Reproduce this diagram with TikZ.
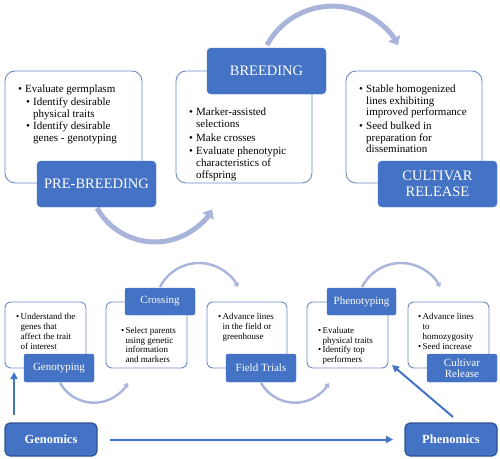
\documentclass[tikz,border=0pt]{standalone}
\usepackage{fontspec}
\setmainfont{Liberation Serif}
\usetikzlibrary{arrows.meta}
\definecolor{accblue}{RGB}{68,114,196}
\definecolor{edgeblue}{RGB}{112,138,196}
\definecolor{arcgray}{RGB}{168,180,218}
\definecolor{darkedge}{RGB}{47,82,143}
\newcommand{\bitem}[1]{\makebox[7pt][l]{\textbullet}#1}
\newcommand{\sitem}[1]{\makebox[4.5pt][l]{\textbullet}#1}
\tikzset{
  whitebox/.style={draw=edgeblue, line width=0.9pt, fill=white, rounded corners=#1,
    inner sep=0pt, outer sep=0pt, anchor=north west},
  bluebox/.style={fill=accblue, draw=accblue, rounded corners=4pt, text=white,
    inner sep=0pt, outer sep=0pt, align=center},
  bigfont/.style={font=\fontsize{14.5}{15.5}\selectfont},
  smallfont/.style={font=\fontsize{11}{11}\selectfont},
  toptext/.style={inner sep=0pt, anchor=north west, align=left},
  bottext/.style={inner sep=0pt, anchor=north west, align=left, font=\fontsize{9}{9.7}\selectfont},
  bigarc/.style={draw=arcgray, line width=5pt, -{Triangle[length=8pt,width=13pt]}},
  smallarc/.style={draw=arcgray, line width=2.4pt, -{Triangle[length=4pt,width=6pt]}},
  omicbox/.style={fill=accblue, draw=darkedge, line width=1.2pt, rounded corners=5pt,
    text=white, inner sep=0pt, outer sep=0pt, minimum width=92pt, minimum height=33pt,
    font=\fontsize{12.5}{13}\selectfont\bfseries},
  bluearrow/.style={draw=accblue, line width=2pt, -{Triangle[length=7pt,width=7pt]}}
}
\begin{document}
\begin{tikzpicture}[x=1pt,y=-1pt]
\useasboundingbox (0,0) rectangle (500,458);

% ---------- top row arcs ----------
\draw[bigarc] (267,45) arc[start angle=-151.4, end angle=-28.3, radius=74.5];
\draw[bigarc] (97,208) arc[start angle=150.7, end angle=30.7, radius=66.5];

% ---------- top row boxes ----------
\node[whitebox=10pt, minimum width=137pt, minimum height=112pt] (prew) at (5,71) {};
\node[whitebox=10pt, minimum width=136pt, minimum height=112pt] (breedw) at (176,71) {};
\node[whitebox=10pt, minimum width=136pt, minimum height=112pt] (cultw) at (346,71) {};

\node[toptext, font=\fontsize{11}{12}\selectfont] (pret) at (18,85)
  {\bitem{Evaluate germplasm}\\[0.5pt]
   \hspace*{8pt}\bitem{Identify desirable}\\
   \hspace*{15pt}physical traits\\[0.5pt]
   \hspace*{8pt}\bitem{Identify desirable}\\
   \hspace*{15pt}genes - genotyping};
\node[toptext, font=\fontsize{11}{11.8}\selectfont] (breedt) at (189,108)
  {\bitem{Marker-assisted}\\
   \hspace*{7pt}selections\\[2pt]
   \bitem{Make crosses}\\[1.5pt]
   \bitem{Evaluate phenotypic}\\
   \hspace*{7pt}characteristics of\\
   \hspace*{7pt}offspring};
\node[toptext, font=\fontsize{11}{11.5}\selectfont] (cultt) at (359,85)
  {\bitem{Stable homogenized}\\
   \hspace*{7pt}lines exhibiting\\
   \hspace*{7pt}improved performance\\[2.5pt]
   \bitem{Seed bulked in}\\
   \hspace*{7pt}preparation for\\
   \hspace*{7pt}dissemination};

\node[bluebox, bigfont, minimum width=119pt, minimum height=46pt] (prel) at (96.5,184) {PRE-BREEDING};
\node[bluebox, bigfont, minimum width=119pt, minimum height=46pt] (breedl) at (266.5,71) {BREEDING};
\node[bluebox, bigfont, minimum width=119pt, minimum height=46pt] (cultl) at (437.5,184) {CULTIVAR\\RELEASE};

% ---------- bottom row arcs ----------
\draw[smallarc] (60.1,383) arc[start angle=150.3, end angle=29.7, radius=39];
\draw[smallarc] (261.1,383) arc[start angle=150.3, end angle=29.7, radius=39];
\draw[smallarc] (160,287) arc[start angle=-153.2, end angle=-26.8, radius=43.7];
\draw[smallarc] (362,287) arc[start angle=-153.2, end angle=-26.8, radius=43.7];

% ---------- bottom row boxes ----------
\node[whitebox=6pt, minimum width=81pt, minimum height=66pt] (genow) at (5,302) {};
\node[whitebox=6pt, minimum width=81pt, minimum height=66pt] (crossw) at (106,302) {};
\node[whitebox=6pt, minimum width=80pt, minimum height=66pt] (fieldw) at (207,302) {};
\node[whitebox=6pt, minimum width=81pt, minimum height=66pt] (phenow) at (307,302) {};
\node[whitebox=6pt, minimum width=81pt, minimum height=66pt] (cultbw) at (408,302) {};

\node[bottext] (genot) at (16,313.5)
  {\sitem{Understand the}\\ \hspace*{4.5pt}genes that\\ \hspace*{4.5pt}affect the trait\\ \hspace*{4.5pt}of interest};
\node[bottext] (crosst) at (121,327)
  {\sitem{Select parents}\\ \hspace*{4.5pt}using genetic\\ \hspace*{4.5pt}information\\ \hspace*{4.5pt}and markers};
\node[bottext] (fieldt) at (218,313.5)
  {\sitem{Advance lines}\\ \hspace*{4.5pt}in the field or\\ \hspace*{4.5pt}greenhouse};
\node[bottext] (phenot) at (318,327)
  {\sitem{Evaluate}\\ \hspace*{4.5pt}physical traits\\ \sitem{Identify top}\\ \hspace*{4.5pt}performers};
\node[bottext] (cultbt) at (418,313.5)
  {\sitem{Advance lines}\\ \hspace*{4.5pt}to\\ \hspace*{4.5pt}homozygosity\\ \sitem{Seed increase}};

\node[bluebox, smallfont, rounded corners=2pt, minimum width=70pt, minimum height=28pt] (genol) at (59,368) {Genotyping};
\node[bluebox, smallfont, rounded corners=2pt, minimum width=70pt, minimum height=27pt] (crossl) at (160,301.5) {Crossing};
\node[bluebox, smallfont, rounded corners=2pt, minimum width=70pt, minimum height=28pt] (fieldl) at (261,368) {Field Trials};
\node[bluebox, smallfont, rounded corners=2pt, minimum width=69pt, minimum height=27pt] (phenol) at (361.5,301.5) {Phenotyping};
\node[bluebox, smallfont, rounded corners=2pt, minimum width=70pt, minimum height=28pt] (cultbl) at (462,368) {Cultivar\\Release};

% ---------- omics ----------
\node[omicbox] (genomics) at (51,439.5) {Genomics};
\node[omicbox] (phenomics) at (451,439.5) {Phenomics};

\draw[bluearrow] ([xshift=9pt,yshift=8pt]genomics.north west) -- ([xshift=9pt,yshift=-4pt]genow.south west);
\draw[bluearrow] ([xshift=13pt]genomics.east) -- ([xshift=-12pt]phenomics.west);
\draw[bluearrow] ([xshift=2pt,yshift=6pt]phenomics.north) -- ([xshift=4pt,yshift=3pt]phenow.south east);
\end{tikzpicture}
\end{document}
